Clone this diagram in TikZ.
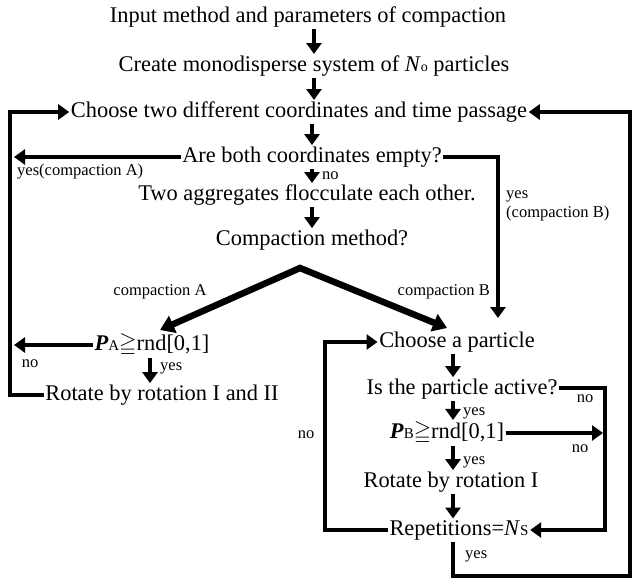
\documentclass[tikz,border=0pt]{standalone}
\usepackage{amssymb}
\usepackage{fontspec}
\setmainfont{Liberation Serif}
\usetikzlibrary{arrows.meta}
\begin{document}
\begin{tikzpicture}[x=1pt,y=-1pt,
 txt/.style={inner sep=1.5pt, font=\fontsize{22.4}{25}\selectfont},
 lbl/.style={inner sep=0pt, font=\fontsize{16.5}{18}\selectfont},
 arr/.style={line width=4.5pt, line join=miter, -{Triangle[width=15pt,length=11pt]}},
 darr/.style={line width=6.5pt, line join=miter, {Triangle[width=18pt,length=14pt]}-{Triangle[width=18pt,length=14pt]}},
 ]
\useasboundingbox (0,0) rectangle (634,587);
% main column
\node[txt] (t1) at (308,17) {Input method and parameters of compaction};
\node[txt] (t2) at (314,66) {Create monodisperse system of \textit{N}{\fontsize{14}{14}\selectfont o} particles};
\node[txt] (t3) at (299,112) {Choose two different coordinates and time passage};
\node[txt] (t4) at (312,157) {Are both coordinates empty?};
\node[txt] (t5) at (307,195) {Two aggregates flocculate each other.};
\node[txt] (t6) at (312,240) {Compaction method?};
\node[txt] (t7) at (152,345) {\textbf{\textit{P}}{\fontsize{15}{16}\selectfont A}$\geqq$rnd[0,1]};
\node[txt] (t8) at (162,395) {Rotate by rotation I and II};
\node[txt] (t9) at (457,342) {Choose a particle};
\node[txt] (t10) at (462,389) {Is the particle active?};
\node[txt] (t11) at (447,433) {\textbf{\textit{P}}{\fontsize{15}{16}\selectfont B}$\geqq$rnd[0,1]};
\node[txt] (t12) at (451,482) {Rotate by rotation I};
\node[txt] (t13) at (459,530) {Repetitions=\textit{N}{\fontsize{15}{16}\selectfont S}};

% coordinates
\coordinate (L1) at (10,395);
\coordinate (L2) at (10,112);
\coordinate (R1) at (453,576);
\coordinate (R2) at (630,576);
\coordinate (R3) at (630,112);
\coordinate (A1) at (14,157);
\coordinate (A2) at (14,345);
\coordinate (B2) at (498,318);
\coordinate (apex) at (300,268);
\coordinate (tipA) at (160,330);
\coordinate (tipB) at (447,328);
\coordinate (C1) at (325,530);
\coordinate (C2) at (325,342);
\coordinate (D1) at (605,388);
\coordinate (D2) at (605,530);
\coordinate (X) at (453,0);
\coordinate (XA) at (150,0);

% down arrows
\draw[arr] (t1.south -| t2.south) -- (t2.north);
\draw[arr] (t2.south) -- (t3.north -| t2.south);
\draw[arr] (t3.south -| t4.south) -- (t4.north -| t4.south);
\draw[arr] (t4.south) -- (t5.north -| t4.south);
\draw[arr] (t5.south -| t4.south) -- (t6.north -| t4.south);
\draw[arr] (t7.south -| XA) -- (t8.north -| XA);
\draw[arr] (t9.south -| X) -- (t10.north -| X);
\draw[arr] (t10.south -| X) -- (t11.north -| X);
\draw[arr] (t11.south -| X) -- (t12.north -| X);
\draw[arr] (t12.south -| X) -- (t13.north -| X);

% loops
\draw[arr] (t8.west) -- (L1) -- (L2) -- (t3.west);
\draw[arr] (t13.south -| X) -- (R1) -- (R2) -- (R3) -- (t3.east);
\draw[arr] (t4.west) -- (A1);
\draw[arr] (t4.east) -| (B2);
\draw[darr] (tipA) -- (apex) -- (tipB);
\draw[arr] (t7.west) -- (A2);
\draw[arr] (t13.west) -- (C1) -- (C2) -- (t9.west);
\draw[arr] (t10.east |- D1) -- (D1) -- (D2) -- (t13.east);
\draw[arr] (t11.east) -- ([xshift=-2pt]t11.east -| D2);

% labels
\node[lbl, anchor=west] at (17,172) {yes(compaction A)};
\node[lbl, anchor=west] at (322,176) {no};
\node[lbl, anchor=west] at (506,196) {yes};
\node[lbl, anchor=west] at (506,214) {(compaction B)};
\node[lbl] at (160,292) {compaction A};
\node[lbl, anchor=east] at (490,292) {compaction B};
\node[lbl] at (30,364) {no};
\node[lbl, anchor=west] at (160,368) {yes};
\node[lbl] at (306,435) {no};
\node[lbl, anchor=west] at (463,413) {yes};
\node[lbl] at (585,399) {no};
\node[lbl, anchor=west] at (463,462) {yes};
\node[lbl] at (580,449) {no};
\node[lbl, anchor=west] at (465,556) {yes};
\end{tikzpicture}
\end{document}
